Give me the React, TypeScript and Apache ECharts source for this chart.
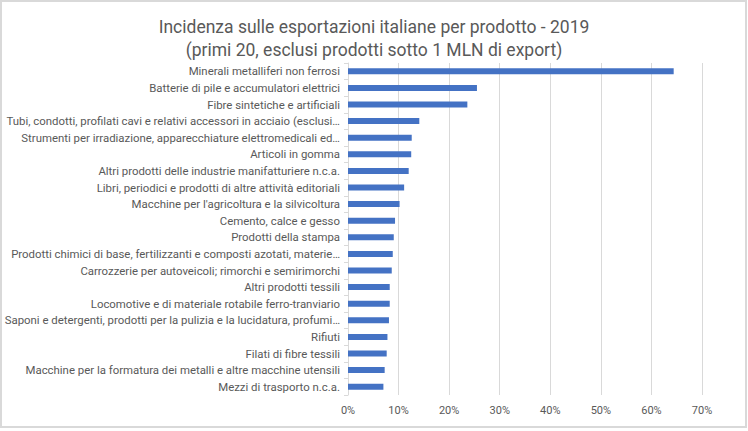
import React, { useEffect, useRef } from "react";
import * as echarts from "echarts";

const categories = [
  "Minerali metalliferi non ferrosi",
  "Batterie di pile e accumulatori elettrici",
  "Fibre sintetiche e artificiali",
  "Tubi, condotti, profilati cavi e relativi accessori in acciaio (esclusi…",
  "Strumenti per irradiazione, apparecchiature elettromedicali ed…",
  "Articoli in gomma",
  "Altri prodotti delle industrie manifatturiere n.c.a.",
  "Libri, periodici e prodotti di altre attività editoriali",
  "Macchine per l'agricoltura e la silvicoltura",
  "Cemento, calce e gesso",
  "Prodotti della stampa",
  "Prodotti chimici di base, fertilizzanti e composti azotati, materie…",
  "Carrozzerie per autoveicoli; rimorchi e semirimorchi",
  "Altri prodotti tessili",
  "Locomotive e di materiale rotabile ferro-tranviario",
  "Saponi e detergenti, prodotti per la pulizia e la lucidatura, profumi…",
  "Rifiuti",
  "Filati di fibre tessili",
  "Macchine per la formatura dei metalli e altre macchine utensili",
  "Mezzi di trasporto n.c.a.",
];

const values = [
  0.644, 0.255, 0.236, 0.141, 0.126, 0.125, 0.12, 0.111, 0.102, 0.093,
  0.0905, 0.0885, 0.0865, 0.0825, 0.0825, 0.081, 0.078, 0.0765, 0.0725, 0.07,
];

const titleLines = [
  "Incidenza sulle esportazioni italiane per prodotto - 2019",
  "(primi 20, esclusi prodotti sotto 1 MLN di export)",
];

const FONT = "Roboto";

export default function App() {
  const ref = useRef<HTMLDivElement>(null);
  useEffect(() => {
    document.body.style.margin = "0";
    const chart = echarts.init(ref.current!, undefined, { renderer: "svg" });
    chart.setOption({
      animation: false,
      backgroundColor: "#ffffff",
      title: {
        text: titleLines.join("\n"),
        left: "center",
        top: 10,
        textStyle: {
          fontFamily: FONT,
          fontSize: 17.5,
          fontWeight: "normal",
          color: "#595959",
          lineHeight: 23,
        },
      },
      graphic: [
        {
          type: "rect",
          shape: { x: 1, y: 1, width: 745, height: 426 },
          style: { fill: "none", stroke: "#d9d9d9", lineWidth: 2 },
          silent: true,
        },
      ],
      grid: { left: 348, right: 46, top: 63, bottom: 36 },
      xAxis: {
        type: "value",
        min: 0,
        max: 0.7,
        interval: 0.1,
        axisLine: { show: false },
        axisTick: { show: false },
        splitLine: { lineStyle: { color: "#d9d9d9", width: 1 } },
        axisLabel: {
          color: "#595959",
          fontFamily: FONT,
          fontSize: 11,
          margin: 10,
          formatter: (v: number) => Math.round(v * 100) + "%",
        },
      },
      yAxis: {
        type: "category",
        data: categories,
        inverse: true,
        axisLine: { lineStyle: { color: "#d9d9d9" } },
        axisTick: { show: true, length: 4, lineStyle: { color: "#d9d9d9" } },
        axisLabel: {
          color: "#595959",
          fontFamily: FONT,
          fontSize: 11.4,
          margin: 8,
          interval: 0,
        },
      },
      series: [
        {
          type: "bar",
          data: values,
          barWidth: 6,
          itemStyle: { color: "#4472C4" },
        },
      ],
    });
    return () => chart.dispose();
  }, []);
  return <div ref={ref} style={{ width: 748, height: 431 }} />;
}
